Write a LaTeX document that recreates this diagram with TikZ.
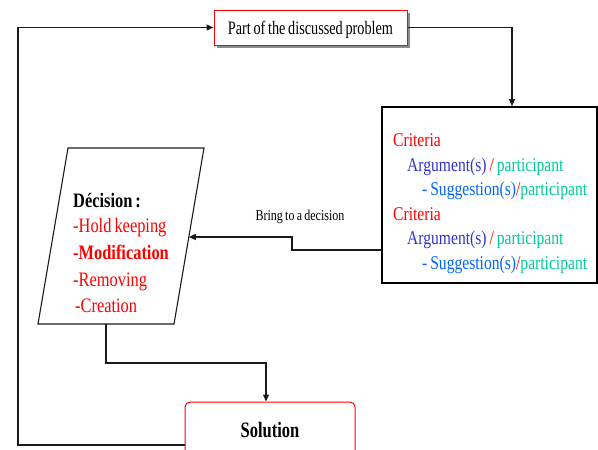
\documentclass[tikz,border=0pt]{standalone}
\usepackage{fontspec}
\setmainfont{Liberation Serif}
% narrow cuts of the serif face
\newfontfamily\narrowserif[FakeStretch=0.8,WordSpace=0.75]{Liberation Serif}
\newfontfamily\narrowerserif[FakeStretch=0.75,WordSpace=0.75]{Liberation Serif}
\usetikzlibrary{arrows.meta,shadows,calc}

\definecolor{critred}{HTML}{FF0000}
\definecolor{argblue}{HTML}{3333CC}
\definecolor{sugblue}{HTML}{0066FF}
\definecolor{partgreen}{HTML}{00CC99}
\definecolor{linegray}{HTML}{1A1A1A}

\tikzset{
  flow/.style={draw=linegray, line width=1.3pt, -{Triangle[length=7pt,width=6pt]}},
  problembox/.style={draw=critred, line width=1pt, fill=white, minimum width=193pt,
    minimum height=35pt, inner sep=0pt, text depth=0pt,
    font=\narrowerserif\fontsize{19}{21}\selectfont,
    drop shadow={shadow xshift=3pt, shadow yshift=-3pt, fill=gray!90, opacity=1}},
  critbox/.style={draw=black, line width=1.6pt, minimum width=215pt, minimum height=176pt, inner sep=0pt},
  solbox/.style={draw=critred, line width=1pt, rounded corners=5pt, minimum width=170pt,
    minimum height=56pt, inner sep=0pt, font=\narrowerserif\bfseries\fontsize{22}{24}\selectfont},
  critline/.style={anchor=base west, inner sep=0pt, font=\narrowserif\fontsize{19.5}{21}\selectfont},
  decline/.style={anchor=base west, inner sep=0pt, font=\narrowserif\fontsize{20.5}{22}\selectfont, text=critred},
  decbold/.style={decline, font=\narrowserif\bfseries\fontsize{20.5}{22}\selectfont},
  lbl/.style={inner sep=0pt, font=\narrowserif\fontsize{15}{17}\selectfont}
}

\begin{document}
\begin{tikzpicture}[x=1pt,y=-1pt]
\useasboundingbox (0,0) rectangle (598,450);

% boxes
\node[problembox] (problem) at (310.5,27.5) {Part of the discussed problem};
\node[critbox] (crit) at (489.5,195) {};
\node[solbox] (sol) at (270,430) {Solution};

% decision parallelogram
\coordinate (dtl) at (68,148);
\coordinate (dtr) at (204,148);
\coordinate (dbr) at (174,324);
\coordinate (dbl) at (38,324);
\draw[line width=1.1pt, draw=linegray] (dtl) -- (dtr) -- (dbr) -- (dbl) -- cycle;

% criteria text
\node[critline, text=critred] (c1) at (393,146) {Criteria};
\node[critline] (a1) at (407,171) {\textcolor{argblue}{Argument(s)} \textcolor{critred}{/} \textcolor{partgreen}{participant}};
\node[critline] (s1) at (422,195.5) {\textcolor{sugblue}{- Suggestion(s)}\textcolor{critred}{/}\textcolor{partgreen}{participant}};
\node[critline, text=critred] (c2) at (393,220) {Criteria};
\node[critline] (a2) at (407,244.5) {\textcolor{argblue}{Argument(s)} \textcolor{critred}{/} \textcolor{partgreen}{participant}};
\node[critline] (s2) at (422,269) {\textcolor{sugblue}{- Suggestion(s)}\textcolor{critred}{/}\textcolor{partgreen}{participant}};

% decision text
\node[decbold, text=black] (d0) at (73,207) {Décision :};
\node[decline] (d1) at (73,232) {-Hold keeping};
\node[decbold] (d2) at (73,259) {-Modification};
\node[decline] (d3) at (73,286) {-Removing};
\node[decline] (d4) at (75,312) {-Creation};

% connectors
\coordinate (loop) at (18,445);
\draw[flow] (sol.west |- loop) -- (loop) |- (problem.west);
\draw[flow] (problem.east) -| ([xshift=22.5pt]crit.north);

\coordinate (b1) at (292,250);
\coordinate (b2) at (292,237);
\coordinate (decin) at (188.8,237);
\draw[flow] (crit.west |- b1) -- (b1) -- (b2) -- (decin);
\node[lbl] (bring) at (300,217) {Bring to a decision};

\coordinate (dout) at (106,324);
\coordinate (d5) at (106,363);
\draw[flow] (dout) -- (d5) -| ([xshift=-4pt]sol.north);
\end{tikzpicture}
\end{document}
